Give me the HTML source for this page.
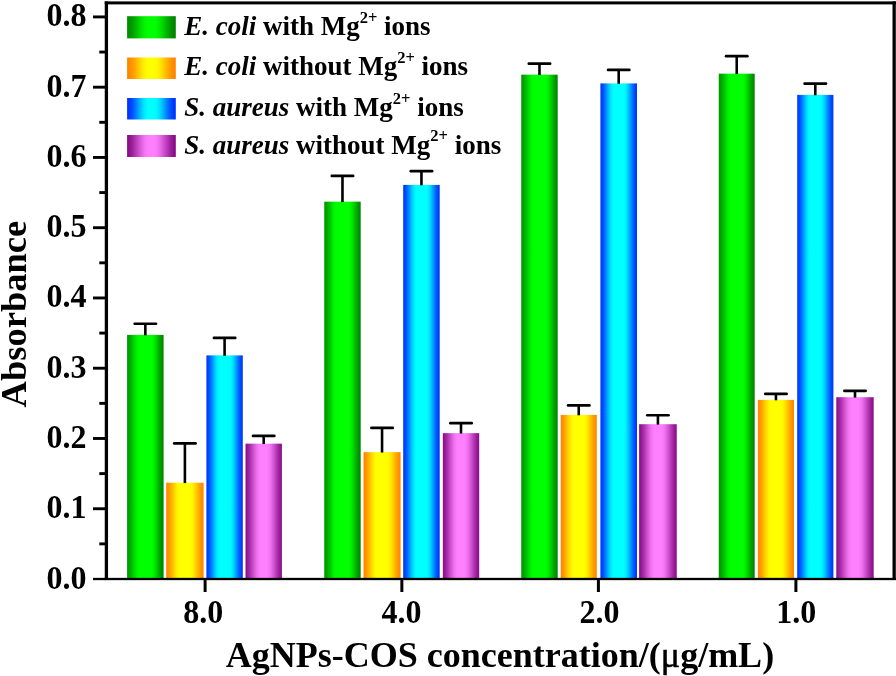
<!DOCTYPE html>
<html><head><meta charset="utf-8"><title>chart</title>
<style>html,body{margin:0;padding:0;background:#fff}svg{display:block;filter:blur(0.45px)}text{font-family:"Liberation Serif",serif;font-weight:bold;fill:#000}</style></head><body>
<svg width="896" height="676" viewBox="0 0 896 676">
<defs>
<linearGradient id="g" x1="0" x2="1" y1="0" y2="0"><stop offset="0.0000" stop-color="#009600"/><stop offset="0.0417" stop-color="#009e00"/><stop offset="0.0833" stop-color="#00ab00"/><stop offset="0.1250" stop-color="#00bb00"/><stop offset="0.1667" stop-color="#00cc00"/><stop offset="0.2083" stop-color="#00dd00"/><stop offset="0.2500" stop-color="#00ed00"/><stop offset="0.2917" stop-color="#00f800"/><stop offset="0.3333" stop-color="#00fe00"/><stop offset="0.3750" stop-color="#00ff00"/><stop offset="0.4167" stop-color="#00ff00"/><stop offset="0.4583" stop-color="#00ff00"/><stop offset="0.5000" stop-color="#00ff00"/><stop offset="0.5417" stop-color="#00ff00"/><stop offset="0.5833" stop-color="#00ff00"/><stop offset="0.6250" stop-color="#00ff00"/><stop offset="0.6667" stop-color="#00fe00"/><stop offset="0.7083" stop-color="#00f700"/><stop offset="0.7500" stop-color="#00ea00"/><stop offset="0.7917" stop-color="#00d800"/><stop offset="0.8333" stop-color="#00c500"/><stop offset="0.8750" stop-color="#00b100"/><stop offset="0.9167" stop-color="#009e00"/><stop offset="0.9583" stop-color="#008f00"/><stop offset="1.0000" stop-color="#008600"/></linearGradient>
<linearGradient id="y" x1="0" x2="1" y1="0" y2="0"><stop offset="0.0000" stop-color="#ff8500"/><stop offset="0.0417" stop-color="#ff8d00"/><stop offset="0.0833" stop-color="#ff9a00"/><stop offset="0.1250" stop-color="#ffab00"/><stop offset="0.1667" stop-color="#ffbe00"/><stop offset="0.2083" stop-color="#ffd100"/><stop offset="0.2500" stop-color="#ffe200"/><stop offset="0.2917" stop-color="#fff100"/><stop offset="0.3333" stop-color="#fffb00"/><stop offset="0.3750" stop-color="#ffff00"/><stop offset="0.4167" stop-color="#ffff00"/><stop offset="0.4583" stop-color="#ffff00"/><stop offset="0.5000" stop-color="#ffff00"/><stop offset="0.5417" stop-color="#ffff00"/><stop offset="0.5833" stop-color="#ffff00"/><stop offset="0.6250" stop-color="#ffff00"/><stop offset="0.6667" stop-color="#fffb00"/><stop offset="0.7083" stop-color="#fff100"/><stop offset="0.7500" stop-color="#ffe200"/><stop offset="0.7917" stop-color="#ffd100"/><stop offset="0.8333" stop-color="#ffbe00"/><stop offset="0.8750" stop-color="#ffab00"/><stop offset="0.9167" stop-color="#ff9a00"/><stop offset="0.9583" stop-color="#ff8d00"/><stop offset="1.0000" stop-color="#ff8500"/></linearGradient>
<linearGradient id="b" x1="0" x2="1" y1="0" y2="0"><stop offset="0.0000" stop-color="#0033ff"/><stop offset="0.0417" stop-color="#0041ff"/><stop offset="0.0833" stop-color="#0058ff"/><stop offset="0.1250" stop-color="#0074ff"/><stop offset="0.1667" stop-color="#0093ff"/><stop offset="0.2083" stop-color="#00b3ff"/><stop offset="0.2500" stop-color="#00d0ff"/><stop offset="0.2917" stop-color="#00e8ff"/><stop offset="0.3333" stop-color="#00f9ff"/><stop offset="0.3750" stop-color="#00ffff"/><stop offset="0.4167" stop-color="#00ffff"/><stop offset="0.4583" stop-color="#00ffff"/><stop offset="0.5000" stop-color="#00ffff"/><stop offset="0.5417" stop-color="#00ffff"/><stop offset="0.5833" stop-color="#00ffff"/><stop offset="0.6250" stop-color="#00ffff"/><stop offset="0.6667" stop-color="#00f9ff"/><stop offset="0.7083" stop-color="#00e8ff"/><stop offset="0.7500" stop-color="#00d0ff"/><stop offset="0.7917" stop-color="#00b3ff"/><stop offset="0.8333" stop-color="#0093ff"/><stop offset="0.8750" stop-color="#0074ff"/><stop offset="0.9167" stop-color="#0058ff"/><stop offset="0.9583" stop-color="#0041ff"/><stop offset="1.0000" stop-color="#0033ff"/></linearGradient>
<linearGradient id="p" x1="0" x2="1" y1="0" y2="0"><stop offset="0.0000" stop-color="#890d89"/><stop offset="0.0417" stop-color="#921692"/><stop offset="0.0833" stop-color="#9e219e"/><stop offset="0.1250" stop-color="#ac2fac"/><stop offset="0.1667" stop-color="#bb3ebb"/><stop offset="0.2083" stop-color="#cb4ecb"/><stop offset="0.2500" stop-color="#db5cdb"/><stop offset="0.2917" stop-color="#e86ae8"/><stop offset="0.3333" stop-color="#f375f3"/><stop offset="0.3750" stop-color="#fb7cfb"/><stop offset="0.4167" stop-color="#ff80ff"/><stop offset="0.4583" stop-color="#ff80ff"/><stop offset="0.5000" stop-color="#ff80ff"/><stop offset="0.5417" stop-color="#ff80ff"/><stop offset="0.5833" stop-color="#ff80ff"/><stop offset="0.6250" stop-color="#fb7cfb"/><stop offset="0.6667" stop-color="#f375f3"/><stop offset="0.7083" stop-color="#e86ae8"/><stop offset="0.7500" stop-color="#db5cdb"/><stop offset="0.7917" stop-color="#cb4ecb"/><stop offset="0.8333" stop-color="#bb3ebb"/><stop offset="0.8750" stop-color="#ac2fac"/><stop offset="0.9167" stop-color="#9e219e"/><stop offset="0.9583" stop-color="#921692"/><stop offset="1.0000" stop-color="#890d89"/></linearGradient>
<linearGradient id="lg" x1="0" x2="1" y1="0" y2="0"><stop offset="0.0000" stop-color="#008c00"/><stop offset="0.0417" stop-color="#009000"/><stop offset="0.0833" stop-color="#009800"/><stop offset="0.1250" stop-color="#00a400"/><stop offset="0.1667" stop-color="#00b200"/><stop offset="0.2083" stop-color="#00c100"/><stop offset="0.2500" stop-color="#00d100"/><stop offset="0.2917" stop-color="#00e000"/><stop offset="0.3333" stop-color="#00ed00"/><stop offset="0.3750" stop-color="#00f700"/><stop offset="0.4167" stop-color="#00fd00"/><stop offset="0.4583" stop-color="#00ff00"/><stop offset="0.5000" stop-color="#00ff00"/><stop offset="0.5417" stop-color="#00ff00"/><stop offset="0.5833" stop-color="#00fd00"/><stop offset="0.6250" stop-color="#00f600"/><stop offset="0.6667" stop-color="#00eb00"/><stop offset="0.7083" stop-color="#00dd00"/><stop offset="0.7500" stop-color="#00cd00"/><stop offset="0.7917" stop-color="#00bd00"/><stop offset="0.8333" stop-color="#00ac00"/><stop offset="0.8750" stop-color="#009e00"/><stop offset="0.9167" stop-color="#009100"/><stop offset="0.9583" stop-color="#008800"/><stop offset="1.0000" stop-color="#008400"/></linearGradient>
<linearGradient id="ly" x1="0" x2="1" y1="0" y2="0"><stop offset="0.0000" stop-color="#ff8400"/><stop offset="0.0417" stop-color="#ff8800"/><stop offset="0.0833" stop-color="#ff9100"/><stop offset="0.1250" stop-color="#ff9e00"/><stop offset="0.1667" stop-color="#ffac00"/><stop offset="0.2083" stop-color="#ffbd00"/><stop offset="0.2500" stop-color="#ffcd00"/><stop offset="0.2917" stop-color="#ffdd00"/><stop offset="0.3333" stop-color="#ffeb00"/><stop offset="0.3750" stop-color="#fff600"/><stop offset="0.4167" stop-color="#fffd00"/><stop offset="0.4583" stop-color="#ffff00"/><stop offset="0.5000" stop-color="#ffff00"/><stop offset="0.5417" stop-color="#ffff00"/><stop offset="0.5833" stop-color="#fffd00"/><stop offset="0.6250" stop-color="#fff600"/><stop offset="0.6667" stop-color="#ffeb00"/><stop offset="0.7083" stop-color="#ffdd00"/><stop offset="0.7500" stop-color="#ffcd00"/><stop offset="0.7917" stop-color="#ffbd00"/><stop offset="0.8333" stop-color="#ffac00"/><stop offset="0.8750" stop-color="#ff9e00"/><stop offset="0.9167" stop-color="#ff9100"/><stop offset="0.9583" stop-color="#ff8800"/><stop offset="1.0000" stop-color="#ff8400"/></linearGradient>
<linearGradient id="lb" x1="0" x2="1" y1="0" y2="0"><stop offset="0.0000" stop-color="#0030ff"/><stop offset="0.0417" stop-color="#0037ff"/><stop offset="0.0833" stop-color="#0046ff"/><stop offset="0.1250" stop-color="#005bff"/><stop offset="0.1667" stop-color="#0074ff"/><stop offset="0.2083" stop-color="#0090ff"/><stop offset="0.2500" stop-color="#00acff"/><stop offset="0.2917" stop-color="#00c6ff"/><stop offset="0.3333" stop-color="#00deff"/><stop offset="0.3750" stop-color="#00f0ff"/><stop offset="0.4167" stop-color="#00fcff"/><stop offset="0.4583" stop-color="#00ffff"/><stop offset="0.5000" stop-color="#00ffff"/><stop offset="0.5417" stop-color="#00ffff"/><stop offset="0.5833" stop-color="#00fcff"/><stop offset="0.6250" stop-color="#00f0ff"/><stop offset="0.6667" stop-color="#00deff"/><stop offset="0.7083" stop-color="#00c6ff"/><stop offset="0.7500" stop-color="#00acff"/><stop offset="0.7917" stop-color="#0090ff"/><stop offset="0.8333" stop-color="#0074ff"/><stop offset="0.8750" stop-color="#005bff"/><stop offset="0.9167" stop-color="#0046ff"/><stop offset="0.9583" stop-color="#0037ff"/><stop offset="1.0000" stop-color="#0030ff"/></linearGradient>
<linearGradient id="lp" x1="0" x2="1" y1="0" y2="0"><stop offset="0.0000" stop-color="#860a86"/><stop offset="0.0417" stop-color="#8d118d"/><stop offset="0.0833" stop-color="#971a97"/><stop offset="0.1250" stop-color="#a327a3"/><stop offset="0.1667" stop-color="#b235b2"/><stop offset="0.2083" stop-color="#c143c1"/><stop offset="0.2500" stop-color="#d052d0"/><stop offset="0.2917" stop-color="#df60df"/><stop offset="0.3333" stop-color="#eb6deb"/><stop offset="0.3750" stop-color="#f677f6"/><stop offset="0.4167" stop-color="#fc7dfc"/><stop offset="0.4583" stop-color="#ff80ff"/><stop offset="0.5000" stop-color="#ff80ff"/><stop offset="0.5417" stop-color="#ff80ff"/><stop offset="0.5833" stop-color="#fc7dfc"/><stop offset="0.6250" stop-color="#f677f6"/><stop offset="0.6667" stop-color="#eb6deb"/><stop offset="0.7083" stop-color="#df60df"/><stop offset="0.7500" stop-color="#d052d0"/><stop offset="0.7917" stop-color="#c143c1"/><stop offset="0.8333" stop-color="#b235b2"/><stop offset="0.8750" stop-color="#a327a3"/><stop offset="0.9167" stop-color="#971a97"/><stop offset="0.9583" stop-color="#8d118d"/><stop offset="1.0000" stop-color="#860a86"/></linearGradient>
</defs>
<rect width="896" height="676" fill="#fff"/>
<rect x="127.1" y="334.9" width="36.50" height="244.10" fill="url(#g)"/>
<path d="M145.35 335.30 V323.80" stroke="#000" stroke-width="2.6" fill="none"/><path d="M134.65 323.80 H156.05" stroke="#000" stroke-width="2.6" fill="none" stroke-linecap="round"/>
<rect x="324.25" y="201.65" width="36.45" height="377.35" fill="url(#g)"/>
<path d="M342.48 202.05 V175.90" stroke="#000" stroke-width="2.6" fill="none"/><path d="M331.78 175.90 H353.18" stroke="#000" stroke-width="2.6" fill="none" stroke-linecap="round"/>
<rect x="521.25" y="74.65" width="36.45" height="504.35" fill="url(#g)"/>
<path d="M539.48 75.05 V63.65" stroke="#000" stroke-width="2.6" fill="none"/><path d="M528.77 63.65 H550.18" stroke="#000" stroke-width="2.6" fill="none" stroke-linecap="round"/>
<rect x="718.75" y="73.65" width="35.95" height="505.35" fill="url(#g)"/>
<path d="M736.73 74.05 V56.15" stroke="#000" stroke-width="2.6" fill="none"/><path d="M726.02 56.15 H747.43" stroke="#000" stroke-width="2.6" fill="none" stroke-linecap="round"/>
<rect x="166.2" y="482.7" width="37.40" height="96.30" fill="url(#y)"/>
<path d="M184.90 483.10 V443.40" stroke="#000" stroke-width="2.6" fill="none"/><path d="M174.20 443.40 H195.60" stroke="#000" stroke-width="2.6" fill="none" stroke-linecap="round"/>
<rect x="363.5" y="452.15" width="37.10" height="126.85" fill="url(#y)"/>
<path d="M382.05 452.55 V427.90" stroke="#000" stroke-width="2.6" fill="none"/><path d="M371.35 427.90 H392.75" stroke="#000" stroke-width="2.6" fill="none" stroke-linecap="round"/>
<rect x="560.7" y="414.9" width="36.10" height="164.10" fill="url(#y)"/>
<path d="M578.75 415.30 V405.40" stroke="#000" stroke-width="2.6" fill="none"/><path d="M568.05 405.40 H589.45" stroke="#000" stroke-width="2.6" fill="none" stroke-linecap="round"/>
<rect x="757.9" y="399.9" width="36.10" height="179.10" fill="url(#y)"/>
<path d="M775.95 400.30 V393.90" stroke="#000" stroke-width="2.6" fill="none"/><path d="M765.25 393.90 H786.65" stroke="#000" stroke-width="2.6" fill="none" stroke-linecap="round"/>
<rect x="206.4" y="355.4" width="36.40" height="223.60" fill="url(#b)"/>
<path d="M224.60 355.80 V337.90" stroke="#000" stroke-width="2.6" fill="none"/><path d="M213.90 337.90 H235.30" stroke="#000" stroke-width="2.6" fill="none" stroke-linecap="round"/>
<rect x="403.2" y="184.9" width="36.50" height="394.10" fill="url(#b)"/>
<path d="M421.45 185.30 V171.15" stroke="#000" stroke-width="2.6" fill="none"/><path d="M410.75 171.15 H432.15" stroke="#000" stroke-width="2.6" fill="none" stroke-linecap="round"/>
<rect x="600.4" y="83.4" width="36.60" height="495.60" fill="url(#b)"/>
<path d="M618.70 83.80 V69.90" stroke="#000" stroke-width="2.6" fill="none"/><path d="M608.00 69.90 H629.40" stroke="#000" stroke-width="2.6" fill="none" stroke-linecap="round"/>
<rect x="797.2" y="94.9" width="36.20" height="484.10" fill="url(#b)"/>
<path d="M815.30 95.30 V83.65" stroke="#000" stroke-width="2.6" fill="none"/><path d="M804.60 83.65 H826.00" stroke="#000" stroke-width="2.6" fill="none" stroke-linecap="round"/>
<rect x="245.5" y="443.65" width="36.40" height="135.35" fill="url(#p)"/>
<path d="M263.70 444.05 V435.90" stroke="#000" stroke-width="2.6" fill="none"/><path d="M253.00 435.90 H274.40" stroke="#000" stroke-width="2.6" fill="none" stroke-linecap="round"/>
<rect x="442.8" y="433.15" width="36.40" height="145.85" fill="url(#p)"/>
<path d="M461.00 433.55 V423.15" stroke="#000" stroke-width="2.6" fill="none"/><path d="M450.30 423.15 H471.70" stroke="#000" stroke-width="2.6" fill="none" stroke-linecap="round"/>
<rect x="639.1" y="424.2" width="37.65" height="154.80" fill="url(#p)"/>
<path d="M657.92 424.60 V415.20" stroke="#000" stroke-width="2.6" fill="none"/><path d="M647.22 415.20 H668.62" stroke="#000" stroke-width="2.6" fill="none" stroke-linecap="round"/>
<rect x="836.3" y="397.2" width="37.40" height="181.80" fill="url(#p)"/>
<path d="M855.00 397.60 V390.85" stroke="#000" stroke-width="2.6" fill="none"/><path d="M844.30 390.85 H865.70" stroke="#000" stroke-width="2.6" fill="none" stroke-linecap="round"/>
<rect x="104.75" y="1.4" width="3.3" height="577.60" fill="#000"/>
<rect x="104.75" y="1.4" width="791.25" height="3" fill="#000"/>
<rect x="892.5" y="1.4" width="3.3" height="577.60" fill="#000"/>
<rect x="104.75" y="577.85" width="791.25" height="2.3" fill="#000"/>
<line x1="93" x2="106.4" y1="579.00" y2="579.00" stroke="#000" stroke-width="2.3"/>
<text transform="translate(86.5,588.50) scale(0.97,1)" font-size="33" text-anchor="end">0.0</text>
<line x1="99.3" x2="106.4" y1="543.87" y2="543.87" stroke="#000" stroke-width="2.9"/>
<line x1="93" x2="106.4" y1="508.74" y2="508.74" stroke="#000" stroke-width="2.9"/>
<text transform="translate(86.5,518.24) scale(0.97,1)" font-size="33" text-anchor="end">0.1</text>
<line x1="99.3" x2="106.4" y1="473.61" y2="473.61" stroke="#000" stroke-width="2.9"/>
<line x1="93" x2="106.4" y1="438.48" y2="438.48" stroke="#000" stroke-width="2.9"/>
<text transform="translate(86.5,447.98) scale(0.97,1)" font-size="33" text-anchor="end">0.2</text>
<line x1="99.3" x2="106.4" y1="403.35" y2="403.35" stroke="#000" stroke-width="2.9"/>
<line x1="93" x2="106.4" y1="368.22" y2="368.22" stroke="#000" stroke-width="2.9"/>
<text transform="translate(86.5,377.72) scale(0.97,1)" font-size="33" text-anchor="end">0.3</text>
<line x1="99.3" x2="106.4" y1="333.09" y2="333.09" stroke="#000" stroke-width="2.9"/>
<line x1="93" x2="106.4" y1="297.96" y2="297.96" stroke="#000" stroke-width="2.9"/>
<text transform="translate(86.5,307.46) scale(0.97,1)" font-size="33" text-anchor="end">0.4</text>
<line x1="99.3" x2="106.4" y1="262.83" y2="262.83" stroke="#000" stroke-width="2.9"/>
<line x1="93" x2="106.4" y1="227.70" y2="227.70" stroke="#000" stroke-width="2.9"/>
<text transform="translate(86.5,237.20) scale(0.97,1)" font-size="33" text-anchor="end">0.5</text>
<line x1="99.3" x2="106.4" y1="192.57" y2="192.57" stroke="#000" stroke-width="2.9"/>
<line x1="93" x2="106.4" y1="157.44" y2="157.44" stroke="#000" stroke-width="2.9"/>
<text transform="translate(86.5,166.94) scale(0.97,1)" font-size="33" text-anchor="end">0.6</text>
<line x1="99.3" x2="106.4" y1="122.31" y2="122.31" stroke="#000" stroke-width="2.9"/>
<line x1="93" x2="106.4" y1="87.18" y2="87.18" stroke="#000" stroke-width="2.9"/>
<text transform="translate(86.5,96.68) scale(0.97,1)" font-size="33" text-anchor="end">0.7</text>
<line x1="99.3" x2="106.4" y1="52.05" y2="52.05" stroke="#000" stroke-width="2.9"/>
<line x1="93" x2="106.4" y1="16.92" y2="16.92" stroke="#000" stroke-width="2.9"/>
<text transform="translate(86.5,26.42) scale(0.97,1)" font-size="33" text-anchor="end">0.8</text>
<line x1="205.1" x2="205.1" y1="579.0" y2="592" stroke="#000" stroke-width="3"/>
<text transform="translate(203.35,623.2) scale(0.97,1)" font-size="33" text-anchor="middle">8.0</text>
<line x1="401.85" x2="401.85" y1="579.0" y2="592" stroke="#000" stroke-width="3"/>
<text transform="translate(401.4,623.2) scale(0.97,1)" font-size="33" text-anchor="middle">4.0</text>
<line x1="598.4" x2="598.4" y1="579.0" y2="592" stroke="#000" stroke-width="3"/>
<text transform="translate(599.4,623.2) scale(0.97,1)" font-size="33" text-anchor="middle">2.0</text>
<line x1="795.9" x2="795.9" y1="579.0" y2="592" stroke="#000" stroke-width="3"/>
<text transform="translate(796.2,623.2) scale(0.97,1)" font-size="33" text-anchor="middle">1.0</text>
<text x="500" y="666.9" font-size="36" text-anchor="middle">AgNPs-COS concentration/(<tspan font-weight="normal" stroke="#000" stroke-width="0.5">μ</tspan>g/mL)</text>
<text transform="translate(26.3,314.1) rotate(-90)" font-size="36.5" text-anchor="middle">Absorbance</text>
<rect x="127.1" y="16.2" width="48.7" height="22.20" fill="url(#lg)"/>
<text x="184.2" y="34.8" font-size="27"><tspan font-style="italic">E. coli</tspan> with Mg<tspan font-size="16.5" dy="-12.3">2+</tspan><tspan dy="12.3"> ions</tspan></text>
<rect x="127.1" y="57.5" width="48.7" height="21.50" fill="url(#ly)"/>
<text x="184.2" y="75.4" font-size="27"><tspan font-style="italic">E. coli</tspan> without Mg<tspan font-size="16.5" dy="-12.3">2+</tspan><tspan dy="12.3"> ions</tspan></text>
<rect x="127.1" y="98" width="48.7" height="21.50" fill="url(#lb)"/>
<text x="184.2" y="116.3" font-size="27"><tspan font-style="italic">S. aureus</tspan> with Mg<tspan font-size="16.5" dy="-12.3">2+</tspan><tspan dy="12.3"> ions</tspan></text>
<rect x="127.1" y="135" width="48.7" height="22.00" fill="url(#lp)"/>
<text x="184.2" y="153.6" font-size="27"><tspan font-style="italic">S. aureus</tspan> without Mg<tspan font-size="16.5" dy="-12.3">2+</tspan><tspan dy="12.3"> ions</tspan></text>
</svg></body></html>
